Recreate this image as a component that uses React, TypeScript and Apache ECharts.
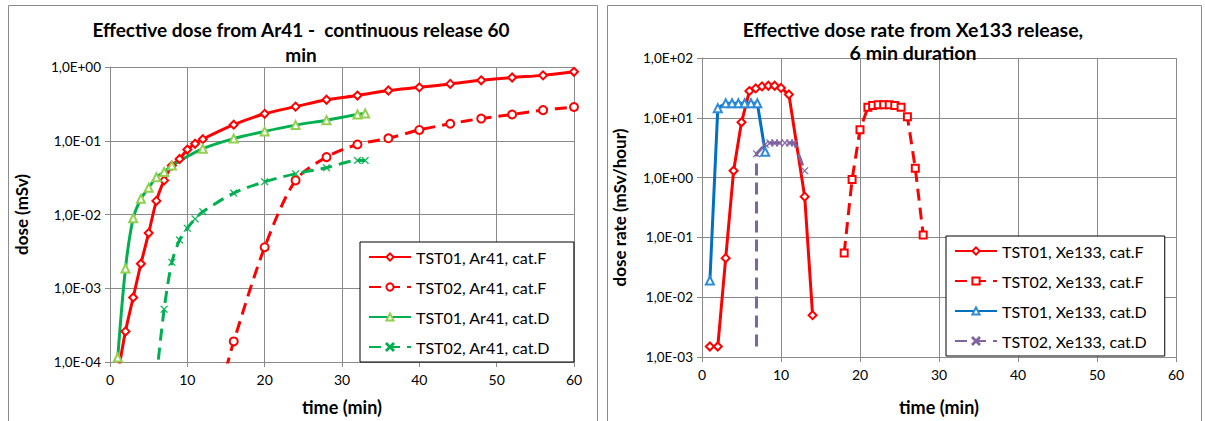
import React, { useEffect, useRef } from "react";
import * as echarts from "echarts";

// ---------- Left chart: Ar41 effective dose (mSv) ----------
const arTST01F_t = [1, 2, 3, 4, 5, 6, 7, 8, 9, 10, 11, 12, 16, 20, 24, 28, 32, 36, 40, 44, 48, 52, 56, 60];
const arTST01F_v = [6.6e-5, 2.6e-4, 7.5e-4, 2.15e-3, 5.6e-3, 0.0153, 0.029, 0.046, 0.0565, 0.076, 0.091, 0.105, 0.165, 0.232, 0.29, 0.36, 0.41, 0.48, 0.53, 0.59, 0.66, 0.72, 0.77, 0.86];

const arTST02F_t = [15, 16, 20, 24, 28, 32, 36, 40, 44, 48, 52, 56, 60];
const arTST02F_v = [8e-5, 1.9e-4, 3.6e-3, 0.029, 0.06, 0.089, 0.108, 0.14, 0.17, 0.2, 0.227, 0.26, 0.287];

const arTST01D_t = [1, 2, 3, 4, 5, 6, 7, 8, 12, 16, 20, 24, 28, 32, 33];
const arTST01D_v = [1.15e-4, 1.85e-3, 8.9e-3, 0.0163, 0.023, 0.032, 0.0376, 0.046, 0.078, 0.107, 0.134, 0.163, 0.19, 0.227, 0.234];

const arTST02D_t = [6, 7, 8, 9, 10, 11, 12, 16, 20, 24, 28, 32, 33];
const arTST02D_v = [6e-5, 5.2e-4, 2.25e-3, 4.5e-3, 6.5e-3, 8.7e-3, 0.0109, 0.0195, 0.0278, 0.0357, 0.043, 0.054, 0.054];

// ---------- Right chart: Xe133 effective dose rate (mSv/hour) ----------
const xeTST01F_t = [1, 2, 3, 4, 5, 6, 6.8, 7.6, 8.4, 9.2, 10, 11, 13, 14];
const xeTST01F_v = [0.0015, 0.0015, 0.045, 1.3, 8.4, 28, 31, 33.5, 34.4, 34.4, 31.6, 24.5, 0.48, 0.005];

const xeTST02F_t = [18, 19, 20, 21, 21.6, 22.3, 23, 23.7, 24.4, 25.2, 26, 27, 28];
const xeTST02F_v = [0.055, 0.93, 6.3, 15, 16, 16.5, 16.5, 16.5, 16, 15, 10.4, 1.43, 0.11];

const xeTST01D_t = [1, 2, 3, 3.8, 4.6, 5.4, 6.2, 7, 8];
const xeTST01D_v = [0.019, 14.5, 17.5, 17.5, 17.5, 17.5, 17.5, 17.5, 2.7];

const xeTST02D_t = [6.9, 6.9, 8, 8.6, 9.2, 9.8, 10.5, 11.1, 11.7, 13];
const xeTST02D_v = [0.0015, 2.5, 3.6, 3.8, 3.8, 3.8, 3.8, 3.8, 3.8, 1.3];

const leftNames = ["TST01, Ar41, cat.F", "TST02, Ar41, cat.F", "TST01, Ar41, cat.D", "TST02, Ar41, cat.D"];
const rightNames = ["TST01, Xe133, cat.F", "TST02, Xe133, cat.F", "TST01, Xe133, cat.D", "TST02, Xe133, cat.D"];

const FONT = 'Lato, "Open Sans", sans-serif';
const X_SYMBOL = "path://M0,0.8L0.8,0L5,4.2L9.2,0L10,0.8L5.8,5L10,9.2L9.2,10L5,5.8L0.8,10L0,9.2L4.2,5Z";
const GRID_COLOR = "#8a8a8a";

const zip = (t: number[], v: number[]) => t.map((x, i) => [x, v[i]]);

const fmtExp = (v: number) => {
  const e = Math.round(Math.log10(v));
  return "1,0E" + (e < 0 ? "-" : "+") + String(Math.abs(e)).padStart(2, "0");
};

function xAxisCfg(gridIndex: number, nameGap: number) {
  return {
    gridIndex,
    type: "value",
    min: 0,
    max: 60,
    interval: 10,
    axisLine: { show: true, onZero: false, lineStyle: { color: GRID_COLOR } },
    axisTick: { show: true, length: 5, lineStyle: { color: GRID_COLOR } },
    splitLine: { show: true, lineStyle: { color: GRID_COLOR } },
    axisLabel: { color: "#000", fontSize: 14, margin: 10, fontFamily: FONT },
    name: "time (min)",
    nameLocation: "middle",
    nameGap,
    nameTextStyle: { color: "#000", fontSize: 18, fontWeight: "bold", fontFamily: FONT },
  };
}

function yAxisCfg(gridIndex: number, min: number, max: number, name: string, nameGap: number) {
  return {
    gridIndex,
    type: "log",
    logBase: 10,
    min,
    max,
    axisLine: { show: true, lineStyle: { color: GRID_COLOR } },
    axisTick: { show: true, length: 5, lineStyle: { color: GRID_COLOR } },
    splitLine: { show: true, lineStyle: { color: GRID_COLOR } },
    axisLabel: { color: "#000", fontSize: 13.5, margin: 9, fontFamily: FONT, formatter: fmtExp },
    name,
    nameLocation: "middle",
    nameRotate: 90,
    nameGap,
    nameTextStyle: { color: "#000", fontSize: 17, fontWeight: "bold", fontFamily: FONT },
  };
}

function mk(
  name: string,
  data: any[],
  idx: number,
  lineColor: string,
  markColor: string,
  symbol: string,
  dashed: boolean,
  smooth: boolean | number,
  symbolSize = 8,
  borderWidth = 1.6
) {
  return {
    name,
    type: "line",
    xAxisIndex: idx,
    yAxisIndex: idx,
    data,
    smooth,
    symbol,
    symbolSize,
    showSymbol: true,
    clip: true,
    lineStyle: { color: lineColor, width: 3, type: dashed ? [12, 7] : "solid" },
    itemStyle: { color: markColor, borderColor: markColor, borderWidth },
  };
}

export default function App() {
  const ref = useRef<HTMLDivElement>(null);

  useEffect(() => {
    if (!ref.current) return;
    const chart = echarts.init(ref.current, undefined, { renderer: "svg" });

    const xeTST02D_data: any[] = zip(xeTST02D_t, xeTST02D_v).map((p, i) =>
      i === 0 ? { value: p, symbol: "none" } : p
    );

    const option: any = {
      animation: false,
      backgroundColor: "#fff",
      textStyle: { fontFamily: FONT },
      title: [
        {
          text: "Effective dose from Ar41 -  continuous release 60\nmin",
          left: 296,
          top: 12,
          textAlign: "center",
          textStyle: { fontSize: 19, fontWeight: "bold", lineHeight: 25, color: "#000", fontFamily: FONT },
        },
        {
          text: "Effective dose rate from Xe133 release,\n6 min duration",
          left: 908,
          top: 13,
          textAlign: "center",
          textStyle: { fontSize: 19.5, fontWeight: "bold", lineHeight: 23, color: "#000", fontFamily: FONT },
        },
      ],
      grid: [
        { left: 110, right: 631, top: 67, bottom: 49 },
        { left: 702, right: 29, top: 58, bottom: 54 },
      ],
      xAxis: [xAxisCfg(0, 36), xAxisCfg(1, 41)],
      yAxis: [
        yAxisCfg(0, 1e-4, 1, "dose (mSv)", 80),
        yAxisCfg(1, 1e-3, 100, "dose rate (mSv/hour)", 74),
      ],
      legend: [
        {
          data: leftNames,
          orient: "vertical",
          left: 360,
          top: 242,
          itemWidth: 42,
          itemHeight: 9,
          itemGap: 14,
          padding: [7, 24, 7, 8],
          backgroundColor: "#fff",
          borderColor: "#000",
          borderWidth: 1,
          textStyle: { fontSize: 16, color: "#000", fontFamily: FONT },
        },
        {
          data: rightNames,
          orient: "vertical",
          left: 946,
          top: 236,
          itemWidth: 42,
          itemHeight: 9,
          itemGap: 14,
          padding: [7, 18, 7, 8],
          backgroundColor: "#fff",
          borderColor: "#000",
          borderWidth: 1,
          textStyle: { fontSize: 16, color: "#000", fontFamily: FONT },
        },
      ],
      graphic: [
        {
          type: "rect",
          silent: true,
          z: -10,
          shape: { x: 8.5, y: 5.5, width: 589, height: 440 },
          style: { fill: "none", stroke: "#8c8c8c", lineWidth: 1 },
        },
        {
          type: "rect",
          silent: true,
          z: -10,
          shape: { x: 607.5, y: 5.5, width: 594, height: 440 },
          style: { fill: "none", stroke: "#8c8c8c", lineWidth: 1 },
        },
      ],
      series: [
        mk(leftNames[0], zip(arTST01F_t, arTST01F_v), 0, "#FF0000", "#FF0000", "emptyDiamond", false, 0.3),
        mk(leftNames[1], zip(arTST02F_t, arTST02F_v), 0, "#FF0000", "#FF0000", "emptyCircle", true, 0.3),
        mk(leftNames[2], zip(arTST01D_t, arTST01D_v), 0, "#00B050", "#92D050", "emptyTriangle", false, 0.3),
        mk(leftNames[3], zip(arTST02D_t, arTST02D_v), 0, "#00B050", "#00B050", X_SYMBOL, true, 0.3, 7, 0.6),
        mk(rightNames[0], zip(xeTST01F_t, xeTST01F_v), 1, "#FF0000", "#FF0000", "emptyDiamond", false, false),
        mk(rightNames[1], zip(xeTST02F_t, xeTST02F_v), 1, "#FF0000", "#FF0000", "emptyRect", true, false, 7),
        mk(rightNames[2], zip(xeTST01D_t, xeTST01D_v), 1, "#0070C0", "#2E8BD8", "emptyTriangle", false, false),
        mk(rightNames[3], xeTST02D_data, 1, "#8064A2", "#8064A2", X_SYMBOL, true, false, 7, 0.6),
      ],
    };

    chart.setOption(option);
    return () => chart.dispose();
  }, []);

  return (
    <div
      ref={ref}
      style={{ position: "absolute", left: 0, top: 0, width: 1205, height: 421, background: "#fff" }}
    />
  );
}
